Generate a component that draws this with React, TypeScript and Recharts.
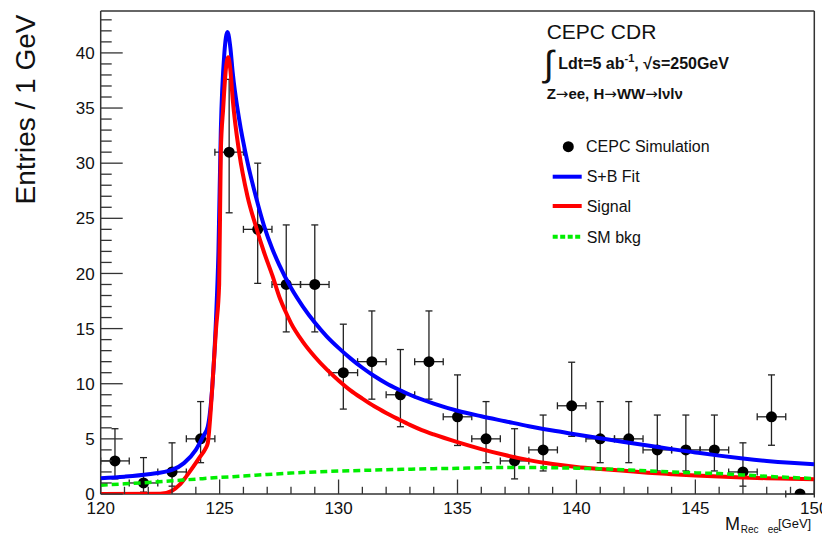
import { ComposedChart, Line, Scatter, ErrorBar, XAxis, YAxis } from "recharts";

// data histogram (1.2 GeV bins between 120 and 150)
const binCenters = [120.6, 121.8, 123.0, 124.2, 125.4, 126.6, 127.8, 129.0, 130.2, 131.4, 132.6, 133.8, 135.0, 136.2, 137.4, 138.6, 139.8, 141.0, 142.2, 143.4, 144.6, 145.8, 147.0, 148.2, 149.4];
const counts = [3, 1, 2, 5, 31, 24, 19, 19, 11, 12, 9, 12, 7, 5, 3, 4, 8, 5, 5, 4, 4, 4, 2, 7, 0];
const errLow = [1.37, 0.17, 0.71, 2.84, 25.5, 19.1, 14.7, 14.7, 7.7, 8.6, 6.1, 8.6, 4.4, 2.84, 1.37, 2.09, 5.23, 2.84, 2.84, 2.09, 2.09, 2.09, 0.71, 4.42, 0];
const errHigh = [5.92, 3.3, 4.64, 8.38, 37.6, 30.0, 24.4, 24.4, 15.4, 16.6, 13.1, 16.6, 10.8, 8.38, 5.92, 7.16, 11.95, 8.38, 8.38, 7.16, 7.16, 7.16, 4.64, 10.8, 0];
const binHalfWidth = 0.6;

// S+B fit
const fitX = [120, 121, 122, 123, 123.5, 124, 124.3, 124.5, 124.7, 124.85, 124.95, 125.05, 125.2, 125.33, 125.45, 125.55, 125.82, 126.17, 126.52, 126.87, 127.22, 127.5, 128, 128.5, 129, 129.5, 130, 130.5, 131, 131.5, 132, 132.5, 133, 134, 135, 136, 137, 138, 139, 140, 141, 142, 143, 144, 145, 146, 147, 148, 149, 150];
const fitY = [1.43, 1.57, 1.79, 2.18, 2.8, 4.0, 5.2, 6.1, 10, 16, 22, 33, 40, 41.9, 40.5, 38.2, 34, 30.1, 27.0, 24.3, 22.2, 20.8, 18.7, 17.0, 15.55, 14.3, 13.25, 12.3, 11.45, 10.7, 10.05, 9.5, 9.0, 8.2, 7.55, 7.05, 6.6, 6.15, 5.75, 5.4, 5.05, 4.72, 4.4, 4.07, 3.77, 3.48, 3.22, 3.0, 2.83, 2.7];

// signal
const sigX = [120, 122.5, 123, 123.3, 123.6, 123.9, 124.15, 124.4, 124.5, 124.62, 124.73, 124.85, 124.98, 125.05, 125.15, 125.26, 125.36, 125.45, 125.55, 125.82, 126.17, 126.52, 126.87, 127.22, 127.54, 127.78, 128, 128.5, 129, 129.5, 130, 130.5, 131, 131.5, 132, 132.5, 133, 133.5, 134, 135, 136, 137, 138, 139, 140, 141, 142, 143, 144, 145, 146, 147, 148, 149, 150];
const sigY = [0, 0.02, 0.3, 0.8, 1.6, 2.5, 3.3, 4.1, 4.6, 7.4, 11, 15, 19, 31, 35, 38.5, 39.6, 38.5, 35.8, 31, 27, 24.3, 21.9, 19.8, 17.7, 16.5, 15.5, 13.8, 12.45, 11.3, 10.3, 9.4, 8.65, 7.95, 7.35, 6.8, 6.27, 5.8, 5.4, 4.7, 4.07, 3.53, 3.07, 2.72, 2.45, 2.26, 2.1, 1.93, 1.8, 1.68, 1.58, 1.5, 1.43, 1.38, 1.33];

// SM background
const bkgX = [120, 121, 122, 123, 124, 125, 126, 127, 128, 129, 130, 131, 132, 133, 134, 135, 136, 137, 138, 139, 140, 141, 142, 143, 144, 145, 146, 147, 148, 149, 150];
const bkgY = [0.8, 0.92, 1.05, 1.2, 1.35, 1.5, 1.63, 1.77, 1.9, 2.0, 2.08, 2.14, 2.2, 2.25, 2.3, 2.33, 2.37, 2.4, 2.4, 2.38, 2.34, 2.28, 2.2, 2.1, 2.0, 1.92, 1.85, 1.73, 1.6, 1.5, 1.4];

const xMin = 120;
const xMax = 150;
const yMax = 43.8;
const xTicks = Array.from({ length: xMax - xMin + 1 }, (_, i) => xMin + i);
const yTicks = Array.from({ length: 44 }, (_, i) => i);

const points = binCenters.map((x, i) => ({
  x,
  y: counts[i],
  ex: [binHalfWidth, binHalfWidth],
  ey: [counts[i] - errLow[i], errHigh[i] - counts[i]],
}));
const toSeries = (xs: number[], ys: number[]) => xs.map((x, i) => ({ x, y: ys[i] }));
const fitData = toSeries(fitX, fitY);
const sigData = toSeries(sigX, sigY);
const bkgData = toSeries(bkgX, bkgY);

const FONT = "'Liberation Sans', Arial, Helvetica, sans-serif";
const AXIS = "#333";

function YTick({ x, y, payload }: any) {
  const v = payload.value;
  const major = v % 5 === 0;
  return (
    <g>
      <line x1={x} x2={x + (major ? 22 : 11)} y1={y} y2={y} stroke={AXIS} strokeWidth={1.3} />
      {major && (
        <text x={x - 6} y={y} dy="0.36em" textAnchor="end" fontSize={17} fill="#111" fontFamily={FONT}>
          {v}
        </text>
      )}
    </g>
  );
}

function XTick({ x, y, payload }: any) {
  const v = payload.value;
  const major = v % 5 === 0;
  return (
    <g>
      <line x1={x} x2={x} y1={y} y2={y - (major ? 14.5 : 7.2)} stroke={AXIS} strokeWidth={1.3} />
      {major && (
        <text x={x} y={y + 20} textAnchor="middle" fontSize={17} fill="#111" fontFamily={FONT}>
          {v}
        </text>
      )}
    </g>
  );
}

function Dot({ cx, cy }: any) {
  return <circle cx={cx} cy={cy} r={5.5} fill="#000" />;
}

const arrow = { fontFamily: "'DejaVu Sans', sans-serif", fontWeight: "normal" as const };

export default function App() {
  return (
    <div style={{ position: "relative", width: 822, height: 530, fontFamily: FONT }}>
      <ComposedChart width={822} height={530} margin={{ top: 2, right: 14.7, left: 91.7, bottom: 43 }}>
        <XAxis
          dataKey="x"
          type="number"
          domain={[xMin, xMax]}
          ticks={xTicks}
          interval={0}
          height={1}
          tickSize={0}
          tickMargin={0}
          tick={<XTick />}
          axisLine={{ stroke: AXIS, strokeWidth: 1.5 }}
          allowDataOverflow
        />
        <XAxis
          xAxisId="top"
          orientation="top"
          type="number"
          domain={[xMin, xMax]}
          height={1}
          tick={false}
          tickLine={false}
          axisLine={{ stroke: AXIS, strokeWidth: 1.5 }}
        />
        <YAxis
          type="number"
          domain={[0, yMax]}
          ticks={yTicks}
          interval={0}
          width={1}
          tickSize={0}
          tickMargin={0}
          tick={<YTick />}
          axisLine={{ stroke: AXIS, strokeWidth: 1.5 }}
          allowDataOverflow
        />
        <YAxis
          yAxisId="right"
          orientation="right"
          type="number"
          domain={[0, yMax]}
          width={1}
          tick={false}
          tickLine={false}
          axisLine={{ stroke: AXIS, strokeWidth: 1.5 }}
        />
        <Scatter data={points} dataKey="y" shape={<Dot />} isAnimationActive={false}>
          <ErrorBar dataKey="ey" direction="y" width={3.5} stroke="#222" strokeWidth={1.3} />
          <ErrorBar dataKey="ex" direction="x" width={3.5} stroke="#222" strokeWidth={1.3} />
        </Scatter>
        <Line data={fitData} dataKey="y" type="monotone" stroke="#0000ff" strokeWidth={4} dot={false} activeDot={false} isAnimationActive={false} zIndex={700} />
        <Line data={sigData} dataKey="y" type="monotone" stroke="#ff0000" strokeWidth={4} dot={false} activeDot={false} isAnimationActive={false} zIndex={710} />
        <Line data={bkgData} dataKey="y" type="monotone" stroke="#00ee00" strokeWidth={3.5} strokeDasharray="7 4" dot={false} activeDot={false} isAnimationActive={false} zIndex={720} />
      </ComposedChart>

      <svg width={822} height={530} style={{ position: "absolute", left: 0, top: 0, pointerEvents: "none" }} fontFamily={FONT}>
        <text x={27} y={101.5} transform="rotate(-90 27 101.5)" textAnchor="middle" fontSize={28} fill="#111">
          Entries / 1 GeV
        </text>

        <text x={717} y={522} fontSize={18} fill="#111">M</text>
        <text x={732.7} y={525} fontSize={10} fill="#111">Rec</text>
        <text x={759.7} y={525} fontSize={10} fill="#111">ee</text>
        <text x={770} y={520} fontSize={13} fill="#111">[GeV]</text>

        <text x={538.7} y={31.3} fontSize={21} fill="#111">CEPC CDR</text>
        <text x={536} y={68} fontSize={36} fill="#111">∫</text>
        <text x={550.3} y={61.3} fontSize={16} fontWeight="bold" fill="#111">
          Ldt=5 ab<tspan dy={-7} fontSize={11}>-1</tspan><tspan dy={7}>, √s=250GeV</tspan>
        </text>
        <text x={538.7} y={91.3} fontSize={15} fontWeight="bold" fill="#111">
          Z<tspan {...arrow}>→</tspan>ee, H<tspan {...arrow}>→</tspan>WW<tspan {...arrow}>→</tspan>lνlν
        </text>

        <circle cx={560.3} cy={138.7} r={5.5} fill="#000" />
        <text x={578} y={143.7} fontSize={16} fill="#111">CEPC Simulation</text>
        <line x1={544.7} x2={573.7} y1={168.7} y2={168.7} stroke="#0000ff" strokeWidth={4} />
        <text x={578.7} y={173.7} fontSize={16} fill="#111">S+B Fit</text>
        <line x1={544.7} x2={573.7} y1={198} y2={198} stroke="#ff0000" strokeWidth={4} />
        <text x={578.7} y={204} fontSize={16} fill="#111">Signal</text>
        <line x1={544.7} x2={573.7} y1={228.7} y2={228.7} stroke="#00ee00" strokeWidth={4} strokeDasharray="5 2.5" />
        <text x={578.7} y={235} fontSize={16} fill="#111">SM bkg</text>
      </svg>
    </div>
  );
}
